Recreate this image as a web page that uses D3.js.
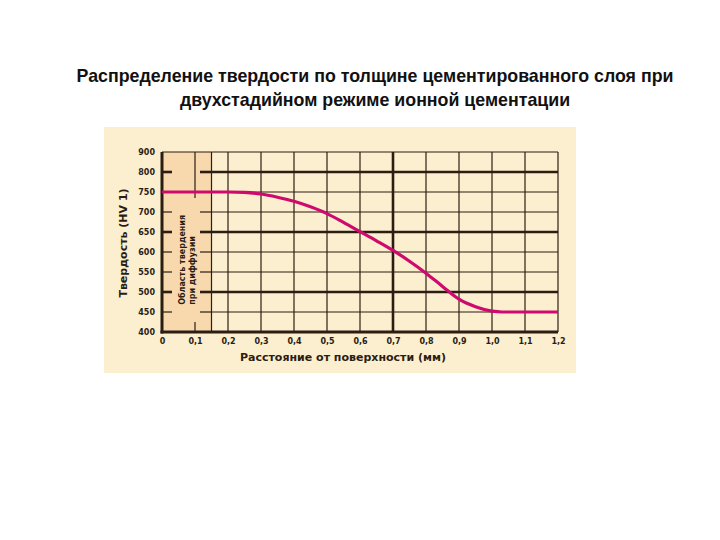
<!DOCTYPE html>
<html><head><meta charset="utf-8">
<script src="https://cdn.jsdelivr.net/npm/d3@7"></script>
<style>body{margin:0;background:#fff}svg{display:block}</style>
</head><body>
<svg id="c" width="720" height="540"></svg>
<script>
const titleLines = ["Распределение твердости по толщине цементированного слоя при", "двухстадийном режиме ионной цементации"];
const distance = [0, 0.1, 0.2, 0.25, 0.3, 0.35, 0.4, 0.45, 0.5, 0.55, 0.6, 0.65, 0.7, 0.75, 0.8, 0.85, 0.9, 0.95, 1.0, 1.03, 1.1, 1.2];
const hardness = [750, 750, 750, 749, 745, 737, 727, 713, 696, 674, 651, 628, 604, 577, 547, 514, 482, 463, 452, 450, 450, 450];
const yTickValues = [400, 450, 500, 550, 600, 650, 700, 750, 800, 850];
const yTickLabels = ["400", "450", "500", "550", "600", "650", "700", "750", "800", "900"];
const xTickValues = [0, 0.1, 0.2, 0.3, 0.4, 0.5, 0.6, 0.7, 0.8, 0.9, 1.0, 1.1, 1.2];
const xTickLabels = ["0", "0,1", "0,2", "0,3", "0,4", "0,5", "0,6", "0,7", "0,8", "0,9", "1,0", "1,1", "1,2"];
const thickY = [500, 650, 800];
const thickX = [0.7];
const zoneEnd = 0.15;
const zoneLabel = ["Область твердения", "при диффузии"];
const xTitle = "Расстояние от поверхности (мм)";
const yTitle = "Твердость (HV 1)";

const svg = d3.select("#c");
const x = d3.scaleLinear().domain([0, 1.2]).range([162, 558]);
const y = d3.scaleLinear().domain([400, 850]).range([332, 152]);
const ink = "#2b1d12";

// title
svg.append("g").selectAll("text").data(titleLines).join("text")
  .attr("x", 375).attr("y", (d, i) => 82 + i * 24)
  .attr("text-anchor", "middle").attr("font-family", "Liberation Sans, Arial, sans-serif")
  .attr("font-weight", "bold").attr("font-size", 17.8).attr("fill", "#111").text(d => d);

// panel
svg.append("rect").attr("x", 104).attr("y", 127).attr("width", 472).attr("height", 246).attr("fill", "#fcefcf");
// shaded zone
svg.append("rect").attr("x", x(0)).attr("y", y(850)).attr("width", x(zoneEnd) - x(0)).attr("height", y(400) - y(850)).attr("fill", "#f8d9ae");

const grid = svg.append("g").attr("stroke", ink);
// horizontal grid
yTickValues.slice(1).forEach(v => {
  const w = thickY.includes(v) ? 2.6 : 1.2;
  grid.append("line").attr("x1", x(zoneEnd)).attr("x2", x(1.2)).attr("y1", y(v)).attr("y2", y(v)).attr("stroke-width", w);
  if (v !== 750 && v !== 850) {
    grid.append("line").attr("x1", x(0)).attr("x2", x(0) + 10).attr("y1", y(v)).attr("y2", y(v)).attr("stroke-width", w);
    grid.append("line").attr("x1", x(0.1) + 5).attr("x2", x(zoneEnd)).attr("y1", y(v)).attr("y2", y(v)).attr("stroke-width", w);
  } else {
    grid.append("line").attr("x1", x(0)).attr("x2", x(zoneEnd)).attr("y1", y(v)).attr("y2", y(v)).attr("stroke-width", w);
  }
});
// vertical grid
xTickValues.slice(1).forEach(v => {
  const w = thickX.includes(v) ? 2.6 : 1.2;
  if (v === 0.1) {
    grid.append("line").attr("x1", x(v)).attr("x2", x(v)).attr("y1", y(850)).attr("y2", y(735)).attr("stroke-width", w);
    grid.append("line").attr("x1", x(v)).attr("x2", x(v)).attr("y1", y(425)).attr("y2", y(400)).attr("stroke-width", w);
  } else {
    grid.append("line").attr("x1", x(v)).attr("x2", x(v)).attr("y1", y(850)).attr("y2", y(400)).attr("stroke-width", w);
  }
});
// zone boundary
grid.append("line").attr("x1", x(zoneEnd)).attr("x2", x(zoneEnd)).attr("y1", y(850)).attr("y2", y(400)).attr("stroke-width", 1.2);
// axes lines
grid.append("line").attr("x1", x(0)).attr("x2", x(0)).attr("y1", y(850)).attr("y2", y(400) + 1.5).attr("stroke-width", 3);
grid.append("line").attr("x1", x(0) - 1.5).attr("x2", x(1.2)).attr("y1", y(400)).attr("y2", y(400)).attr("stroke-width", 3);

// zone label (bottom-aligned, rotated)
const zl = svg.append("g").attr("transform", `translate(176,${y(468)}) rotate(-90)`);
zl.selectAll("text").data(zoneLabel).join("text")
  .attr("x", 0).attr("y", (d, i) => 9 + i * 10).attr("text-anchor", "start")
  .attr("font-family", "DejaVu Sans, sans-serif").attr("font-weight", "bold")
  .attr("font-size", 8).attr("fill", ink).text(d => d);

// curve
svg.append("path").datum(distance.map((d, i) => [d, hardness[i]]))
  .attr("fill", "none").attr("stroke", "#cf0a6e").attr("stroke-width", 3.2)
  .attr("d", d3.line().x(d => x(d[0])).y(d => y(d[1])).curve(d3.curveMonotoneX));

// y ticks
const yAxis = d3.axisLeft(y).tickValues(yTickValues).tickFormat((d, i) => yTickLabels[i]).tickSize(0).tickPadding(7);
const ga = svg.append("g").attr("transform", `translate(${x(0)},0)`).call(yAxis);
ga.select(".domain").remove();
ga.selectAll("text").attr("font-family", "DejaVu Sans, sans-serif").attr("font-weight", "bold").attr("font-size", 8).attr("fill", ink);

// x ticks
const xAxis = d3.axisBottom(x).tickValues(xTickValues).tickFormat((d, i) => xTickLabels[i]).tickSize(0).tickPadding(6);
const gx = svg.append("g").attr("transform", `translate(0,${y(400)})`).call(xAxis);
gx.select(".domain").remove();
gx.selectAll("text").attr("font-family", "DejaVu Sans, sans-serif").attr("font-weight", "bold").attr("font-size", 8).attr("fill", ink);

// axis titles
svg.append("text").attr("x", 343).attr("y", 361).attr("text-anchor", "middle")
  .attr("font-family", "DejaVu Sans, sans-serif").attr("font-weight", "bold").attr("font-size", 11).attr("fill", ink).text(xTitle);
svg.append("text").attr("transform", `translate(127,243) rotate(-90)`).attr("text-anchor", "middle")
  .attr("font-family", "DejaVu Sans, sans-serif").attr("font-weight", "bold").attr("font-size", 11).attr("fill", ink).text(yTitle);
</script>
</body></html>
